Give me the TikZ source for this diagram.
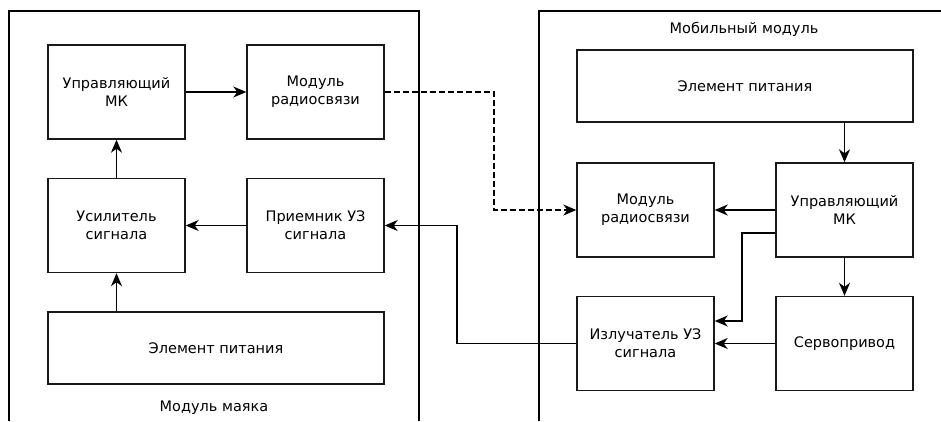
\documentclass[tikz,border=0pt]{standalone}
\usepackage{fontspec}
\setmainfont{DejaVu Sans}
\usetikzlibrary{arrows.meta}
\begin{document}
\begin{tikzpicture}[x=1pt,y=-1pt,
  blk/.style={draw=black!90,line width=1.4pt,inner sep=0pt,align=center,
    font=\fontsize{14.5}{18}\selectfont},
  sq/.style={blk,minimum width=137pt,minimum height=94pt},
  wide/.style={blk,minimum width=336pt,minimum height=72pt},
  panel/.style={draw=black,line width=1.4pt},
  lbl/.style={font=\fontsize{14.5}{16}\selectfont,inner sep=0pt},
  link/.style={draw=black,line width=1.4pt,-{Stealth[length=13pt,width=11pt,inset=4pt]}},
  radio/.style={link,dash pattern=on 6pt off 3pt}]
  \useasboundingbox (0,0) rectangle (941,421);
  \fill[white] (0,0) rectangle (941,421);

  % panel frames (open at the bottom / right)
  \draw[panel] (9,421) -- (9,11) -- (419,11) -- (419,421);
  \draw[panel] (539,421) -- (539,11) -- (941,11);
  \node[lbl] (ltitle) at (214,408) {Модуль маяка};
  \node[lbl] (rtitle) at (744,29) {Мобильный модуль};

  % beacon module
  \node[sq] (lmk)    at (116.5,92)  {Управляющий\\МК};
  \node[sq] (lradio) at (315.5,92)  {Модуль\\радиосвязи};
  \node[sq] (lamp)   at (116.5,225.5) {Усилитель\\сигнала};
  \node[sq] (lrecv)  at (315.5,225.5) {Приемник УЗ\\сигнала};
  \node[wide] (lpow) at (216,348)   {Элемент питания};

  % mobile module
  \node[wide] (rpow)  at (745,86)    {Элемент питания};
  \node[sq] (rradio)  at (645.5,210) {Модуль\\радиосвязи};
  \node[sq] (rmk)     at (844.5,210) {Управляющий\\МК};
  \node[sq] (remit)   at (645.5,343.5) {Излучатель УЗ\\сигнала};
  \node[sq] (rservo)  at (844.5,343.5) {Сервопривод};

  % bend points of the long connectors
  \coordinate (dx) at (494,150);
  \coordinate (ex) at (457,280);
  \coordinate (mx) at (742,280);

  % beacon connections
  \draw[link] (lmk) -- (lradio);
  \draw[link] (lamp) -- (lmk);
  \draw[link] (lrecv) -- (lamp);
  \draw[link] (lpow.north -| lamp) -- (lamp);

  % mobile connections
  \draw[link] (rpow.south -| rmk) -- (rmk);
  \draw[link] (rmk) -- (rservo);
  \draw[link] (rmk) -- (rradio);
  \draw[link] ([yshift=-23pt]rmk.west) -| (mx) |- ([yshift=22.5pt]remit.east);
  \draw[link] (rservo) -- (remit);

  % links between modules
  \draw[radio] (lradio.east) -| (dx) |- (rradio.west);
  \draw[link] (remit.west) -| (ex) |- (lrecv.east);
\end{tikzpicture}
\end{document}
